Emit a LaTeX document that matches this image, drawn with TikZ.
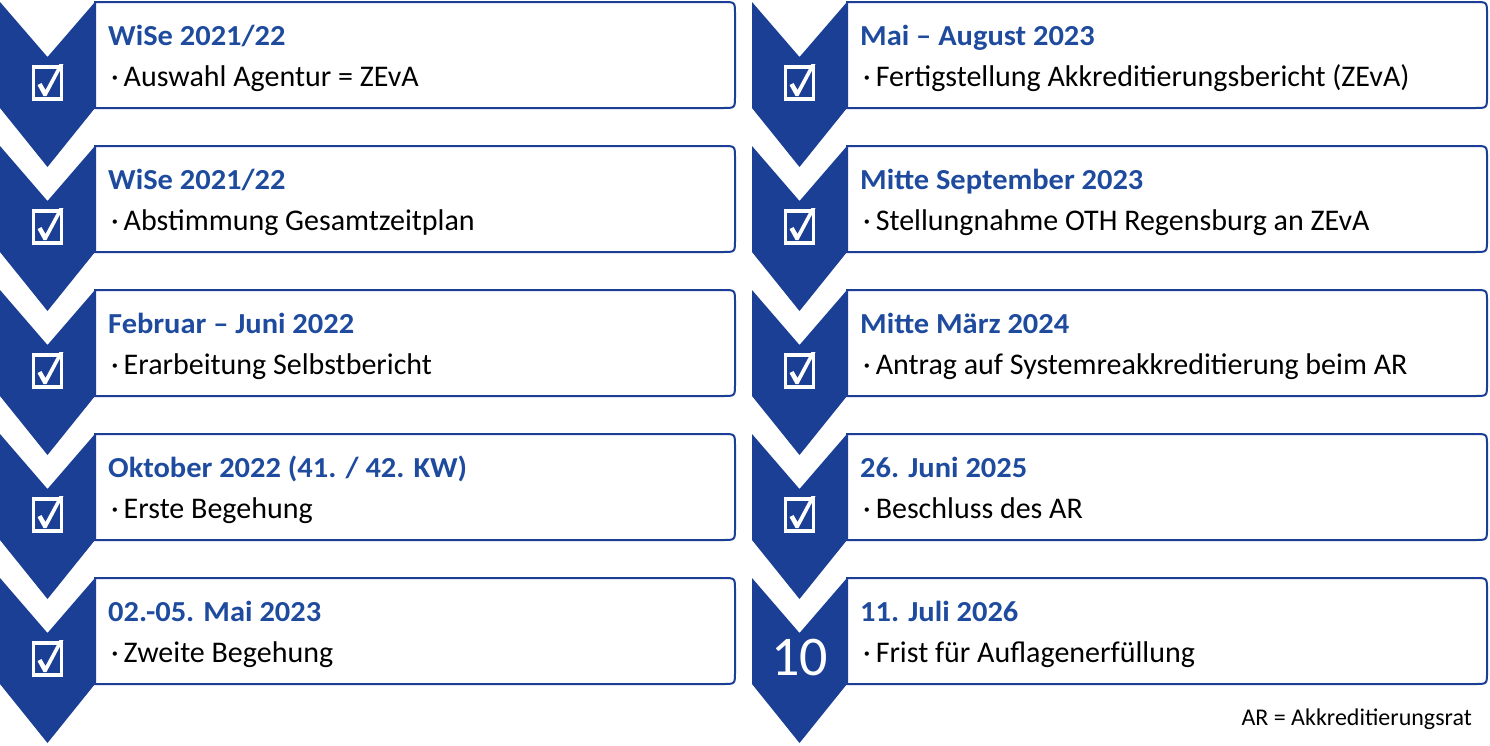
\documentclass[tikz,border=0pt]{standalone}
\usepackage{fontspec}
\setmainfont{Carlito}[BoldFeatures={FakeStretch=1.05}]
\definecolor{othblue}{HTML}{1B3F94}
\definecolor{titleblue}{HTML}{1F4B9F}
\newcommand{\tlitem}[6]{% #1 x0, #2 top, #3 title, #4 body, #5 name, #6 marker (empty=check, else text)
  \pgfmathsetmacro{\xa}{#1}\pgfmathsetmacro{\xb}{#1+640}
  \pgfmathsetmacro{\ta}{#2}\pgfmathsetmacro{\tb}{#2+106}
  \pgfmathsetmacro{\cx}{#1-47.5}\pgfmathsetmacro{\cl}{#1-95}
  \draw[card] (\xa,\ta) -- (\xb-12,\ta) .. controls (\xb,\ta) .. (\xb,\ta+12)
     -- (\xb,\tb-12) .. controls (\xb,\tb) .. (\xb-12,\tb) -- (\xa,\tb) -- cycle;
  \fill[chev] (\cl,\ta) -- (\cx,\ta+55) -- (\xa,\ta) -- (\xa,\tb) -- (\cx,\tb+59) -- (\cl,\tb) -- cycle;
  \node[ttl] (#5t) at (\xa+13,\ta+43) {#3};
  \node[bdy] (#5b) at (\xa+16,\ta+84) {·\kern5pt#4};
  \ifx&#6&
    \draw[cbox] (\cx-14,\ta+65) rectangle (\cx+14,\ta+97);
    \fill[white] (\cx-10,\ta+83) -- (\cx-6,\ta+81) -- (\cx-2,\ta+88) -- (\cx+12,\ta+62)
       -- (\cx+16,\ta+62) -- (\cx-1,\ta+94) -- (\cx-4,\ta+94) -- cycle;
  \else
    \node[num] (#5n) at (\cx,\ta+80) {#6};
  \fi
}
\begin{document}
\begin{tikzpicture}[x=1pt,y=-1pt,
  chev/.style={fill=othblue},
  card/.style={draw=othblue, line width=2pt, fill=white},
  cbox/.style={draw=white, line width=3.5pt},
  ttl/.style={anchor=base west, inner sep=0pt, font=\fontsize{29}{30}\selectfont\bfseries, text=titleblue},
  bdy/.style={anchor=base west, inner sep=0pt, font=\fontsize{30}{32}\selectfont, text=black},
  num/.style={inner sep=0pt, font=\fontsize{56}{58}\selectfont, text=white},
  foot/.style={anchor=base east, inner sep=0pt, font=\fontsize{24}{26}\selectfont, text=black},
]
\useasboundingbox[fill=white] (0,0) rectangle (1490,745);
\tlitem{95}{2}{WiSe 2021/22}{Auswahl Agentur = ZEvA}{a}{}
\tlitem{95}{146}{WiSe 2021/22}{Abstimmung Gesamtzeitplan}{b}{}
\tlitem{95}{290}{Februar – Juni 2022}{Erarbeitung Selbstbericht}{c}{}
\tlitem{95}{434}{Oktober 2022 (41. / 42. KW)}{Erste Begehung}{d}{}
\tlitem{95}{578}{02.-05. Mai 2023}{Zweite Begehung}{e}{}
\tlitem{847}{2}{Mai – August 2023}{Fertigstellung Akkreditierungsbericht (ZEvA)}{f}{}
\tlitem{847}{146}{Mitte September 2023}{Stellungnahme OTH Regensburg an ZEvA}{g}{}
\tlitem{847}{290}{Mitte März 2024}{Antrag auf Systemreakkreditierung beim AR}{h}{}
\tlitem{847}{434}{26. Juni 2025}{Beschluss des AR}{i}{}
\tlitem{847}{578}{11. Juli 2026}{Frist für Auflagenerfüllung}{j}{10}
\node[foot] (ar) at (1472,725) {AR = Akkreditierungsrat};
\end{tikzpicture}
\end{document}
